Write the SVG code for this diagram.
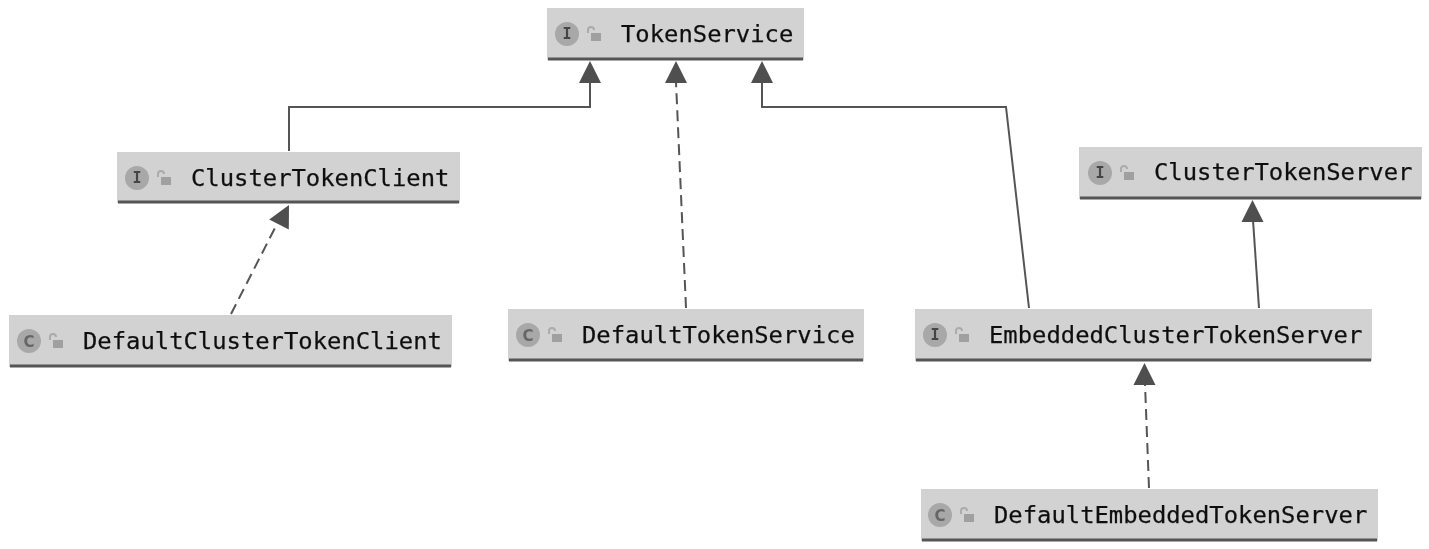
<svg xmlns="http://www.w3.org/2000/svg" width="1429" height="549" viewBox="0 0 1429 549">
<style>
.box{fill:#d2d2d2}
.base{stroke:#555;stroke-width:3;fill:none}
.badge{fill:#a8a8a8}
.kind{font-family:"DejaVu Sans Mono","Liberation Mono",monospace;font-size:15px;font-weight:bold;fill:#444;text-anchor:middle}
.kindc{font-family:"DejaVu Sans","Liberation Sans",sans-serif;font-size:15px;font-weight:bold;fill:#666;text-anchor:middle}
.name{font-family:"DejaVu Sans Mono","Liberation Mono",monospace;font-size:23.85px;fill:#111;stroke:#111;stroke-width:.25}
.lockb{fill:#a0a0a0}
.locks{fill:none;stroke:#ababab;stroke-width:2}
.line{fill:none;stroke:#555;stroke-width:2}
.dash{stroke-dasharray:11 6}
.head{fill:#505050}
</style>
<defs>
<filter id="soft" x="-2%" y="-2%" width="104%" height="104%"><feGaussianBlur stdDeviation="0.6"/></filter>
<g id="lock"><path class="locks" d="M-6 0v-3a3 3 0 0 1 6 0"/><rect class="lockb" x="-3" y="0" width="10" height="8"/></g>
<path id="tri" class="head" d="M-11 22L0 0L11 22Z"/>
</defs>
<rect width="1429" height="549" fill="#fff"/>
<g filter="url(#soft)">
<g id="connectors">
<path class="line" d="M289 151V107H590V82"/><use href="#tri" x="590" y="61"/>
<path class="line dash" d="M686 308L676 82"/><use href="#tri" x="676" y="61"/>
<path class="line" d="M1029 308L1006 107H762V82"/><use href="#tri" x="762" y="61"/>
<path class="line dash" d="M231 314L277 224"/><use href="#tri" transform="translate(289 205) rotate(27)"/>
<path class="line" d="M1259 308L1253 220"/><use href="#tri" x="1252.500" y="200"/>
<path class="line dash" d="M1149 488L1145 384"/><use href="#tri" x="1144.500" y="363"/>
</g>
<g id="node-tokenservice">
<rect class="box" x="547" y="8" width="257" height="52"/><path class="base" d="M548 59H803"/>
<circle class="badge" cx="567" cy="34" r="12"/><text class="kind" x="567" y="39">I</text>
<use href="#lock" x="594" y="33"/>
<text class="name" x="621" y="42">TokenService</text>
</g>
<g id="node-clustertokenclient">
<rect class="box" x="117" y="152" width="343" height="51"/><path class="base" d="M118 202H459"/>
<circle class="badge" cx="137" cy="178" r="12"/><text class="kind" x="137" y="183">I</text>
<use href="#lock" x="164" y="177"/>
<text class="name" x="191" y="186">ClusterTokenClient</text>
</g>
<g id="node-clustertokenserver">
<rect class="box" x="1079" y="147" width="343" height="52"/><path class="base" d="M1080 198H1421"/>
<circle class="badge" cx="1100" cy="173" r="12"/><text class="kind" x="1100" y="178">I</text>
<use href="#lock" x="1127" y="172"/>
<text class="name" x="1154" y="180">ClusterTokenServer</text>
</g>
<g id="node-defaultclustertokenclient">
<rect class="box" x="9" y="315" width="443" height="52"/><path class="base" d="M10 366H451"/>
<circle class="badge" cx="29" cy="341" r="12"/><text class="kindc" x="29" y="346.500">C</text>
<use href="#lock" x="56" y="340"/>
<text class="name" x="83" y="349">DefaultClusterTokenClient</text>
</g>
<g id="node-defaulttokenservice">
<rect class="box" x="508" y="309" width="356" height="52"/><path class="base" d="M509 360H863"/>
<circle class="badge" cx="528" cy="335" r="12"/><text class="kindc" x="528" y="340.500">C</text>
<use href="#lock" x="555" y="334"/>
<text class="name" x="582" y="343">DefaultTokenService</text>
</g>
<g id="node-embeddedclustertokenserver">
<rect class="box" x="915" y="309" width="457" height="52"/><path class="base" d="M916 360H1371"/>
<circle class="badge" cx="935" cy="335" r="12"/><text class="kind" x="935" y="340">I</text>
<use href="#lock" x="962" y="334"/>
<text class="name" x="989" y="343">EmbeddedClusterTokenServer</text>
</g>
<g id="node-defaultembeddedtokenserver">
<rect class="box" x="921" y="489" width="457" height="52"/><path class="base" d="M922 540H1377"/>
<circle class="badge" cx="940" cy="515" r="12"/><text class="kindc" x="940" y="520.500">C</text>
<use href="#lock" x="967" y="514"/>
<text class="name" x="994" y="523">DefaultEmbeddedTokenServer</text>
</g>
</g>
</svg>
